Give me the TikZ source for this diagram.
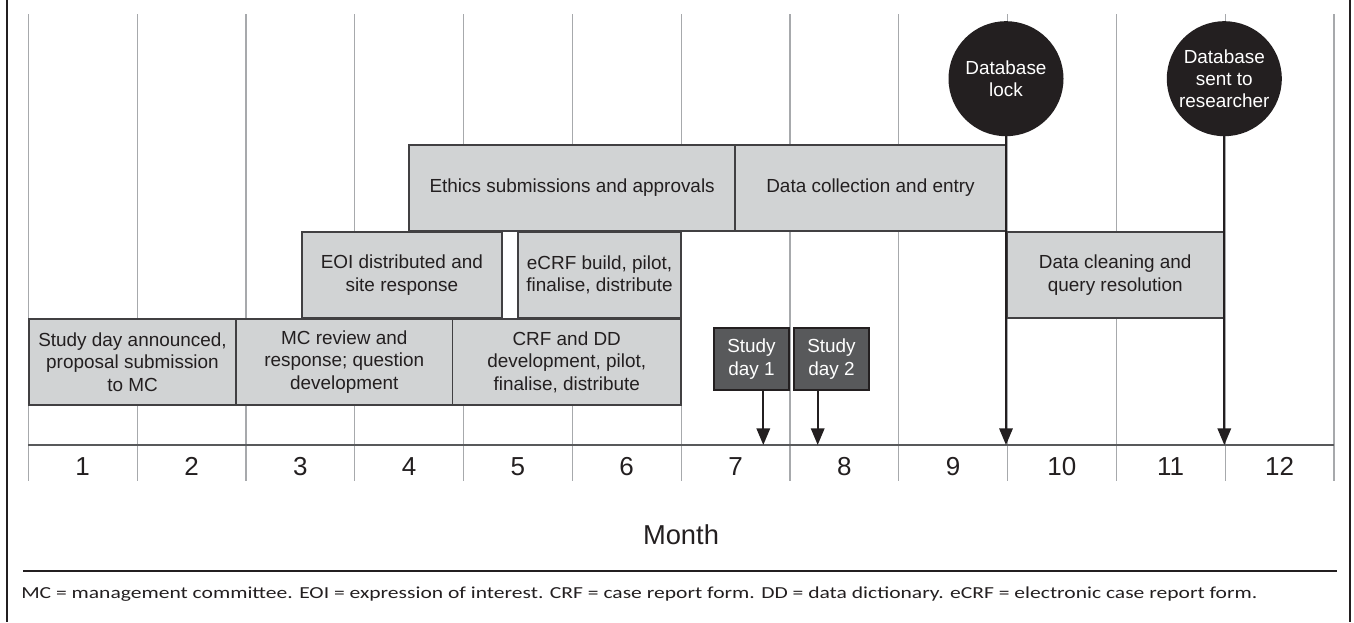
\documentclass[tikz,border=0pt]{standalone}
\usepackage{fontspec}
\setmainfont{Liberation Sans}
\newfontfamily\notefont{Carlito}
\usetikzlibrary{arrows.meta}
\definecolor{boxfill}{HTML}{D1D3D4}
\definecolor{boxline}{HTML}{414042}
\definecolor{ink}{HTML}{231F20}
\definecolor{dayfill}{HTML}{58595B}
\definecolor{gridc}{HTML}{A7A9AC}
\definecolor{axisc}{HTML}{58595B}
\begin{document}
\begin{tikzpicture}[x=0.75pt,y=-0.75pt,
  gridline/.style={draw=gridc, line width=0.9pt},
  gbox/.style={draw=boxline, fill=boxfill, line width=1.2pt, minimum height=64.5pt,
    inner sep=0pt, align=center, text=ink, font=\fontsize{14.2}{16.8}\selectfont},
  daybox/.style={draw=ink, fill=dayfill, line width=2pt, minimum width=56.25pt,
    minimum height=46.5pt, inner sep=0pt, align=center, text=white,
    font=\fontsize{14.2}{16.8}\selectfont},
  milestone/.style={circle, fill=ink, minimum size=86.25pt, inner sep=0pt,
    align=center, text=white, font=\fontsize{14.2}{16.8}\selectfont},
  monthnum/.style={inner sep=0pt, text=ink, font=\fontsize{19.5}{22}\selectfont},
  arr/.style={draw=ink, line width=1.7pt, -{Triangle[width=10pt,length=12.5pt]}}]
\useasboundingbox (0,0) rectangle (1354,622);
\fill[white] (0,0) rectangle (1354,622);
% frame
\draw[ink, line width=1.1pt] (7,0) -- (7,622);
\draw[ink, line width=1.1pt] (1350,0) -- (1350,622);
% grid
\foreach \k in {0,...,12} {
  \draw[gridline] ({28.3+108.8*\k},14) -- ({28.3+108.8*\k},481);
}
\draw[draw=axisc, line width=1.2pt] (28.3,445) -- (1333.9,445);
\foreach \k in {1,...,12} {
  \node[monthnum] (m\k) at ({28.3+108.8*(\k-0.5)},466.7) {\k};
}
\node[inner sep=0pt, text=ink, font=\fontsize{20.5}{24}\selectfont] (month) at (681,535) {Month};
% boxes
\node[gbox, minimum width=155.25pt] (study) at (132.5,362) {Study day announced,\\proposal submission\\to MC};
\node[gbox, minimum width=162.4pt] (mcrev) at (344.25,362) {MC review and\\response; question\\development};
\node[gbox, minimum width=171.4pt] (crf) at (566.75,362) {CRF and DD\\development, pilot,\\finalise, distribute};
\node[gbox, minimum width=150.2pt] (eoi) at (401.85,275) {EOI distributed and\\site response};
\node[gbox, minimum width=122.25pt] (ecrf) at (599.5,275) {eCRF build, pilot,\\finalise, distribute};
\node[gbox, minimum width=244.3pt] (ethics) at (572.15,188) {Ethics submissions and approvals};
\node[gbox, minimum width=203.25pt] (collect) at (870.5,188) {Data collection and entry};
\node[gbox, minimum width=162.4pt] (clean) at (1115.25,275) {Data cleaning and\\query resolution};
% study days
\node[daybox] (day1) at (751.5,359) {Study\\day 1};
\node[daybox] (day2) at (831.5,359) {Study\\day 2};
% milestones
\node[milestone] (lock) at (1006,78.7) {Database\\lock};
\node[milestone] (sent) at (1224.3,78.7) {Database\\sent to\\researcher};
% arrow targets on the axis
\coordinate (t1) at (763.3,445);
\coordinate (t2) at (817.7,445);
\coordinate (t3) at (1006,445);
\coordinate (t4) at (1224.3,445);
\draw[arr] (day1.south -| t1) -- (t1);
\draw[arr] (day2.south -| t2) -- (t2);
\draw[arr] (lock) -- (t3);
\draw[arr] (sent) -- (t4);
% footnote
\draw[ink, line width=1pt] (23,571) -- (1337,571);
\node[anchor=base west, inner sep=0pt, text=ink] (note) at (21,598)
  {\resizebox{927pt}{\height}{\notefont\fontsize{12.6}{15}\selectfont MC = management committee. EOI = expression of interest. CRF = case report form. DD = data dictionary. eCRF = electronic case report form.}};
\end{tikzpicture}
\end{document}
